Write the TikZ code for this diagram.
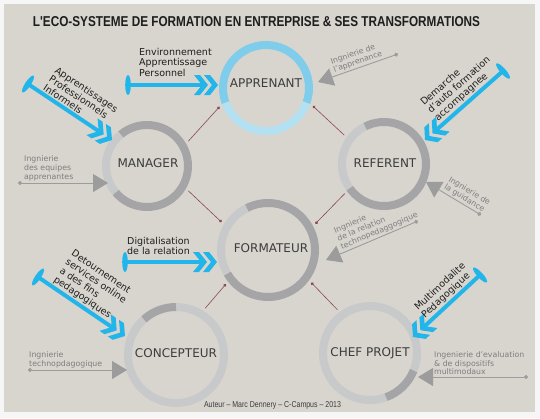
\documentclass[tikz,border=0pt]{standalone}
\usepackage{fontspec}
\setmainfont{DejaVu Sans}
\newfontfamily\titlefont{Liberation Sans}
\usetikzlibrary{arrows.meta,calc}
\definecolor{panel}{HTML}{D8D5CF}
\definecolor{frameW}{HTML}{F6F6F6}
\definecolor{ringD}{HTML}{A5A5A7}
\definecolor{ringL}{HTML}{C8C9CB}
\definecolor{blueD}{HTML}{80CCEB}
\definecolor{blueL}{HTML}{B4E1F1}
\definecolor{arrowB}{HTML}{22B5EA}
\definecolor{annotG}{HTML}{9C9C9C}
\definecolor{annotT}{HTML}{7E7E7E}
\definecolor{linkR}{HTML}{8C4656}
\definecolor{labelT}{HTML}{3C3C3C}
\definecolor{textK}{HTML}{1E1E1E}
\tikzset{
  hub/.style={circle, inner sep=0pt, minimum size=#1},
  hublabel/.style={font=\fontsize{12}{14}\selectfont, text=labelT, inner sep=0pt},
  ringseg/.style={line width=8pt, draw=#1},
  link/.style={draw=linkR, line width=0.6pt},
  bshaft/.style={draw=arrowB, line width=4pt, shorten >=12pt},
  btext/.style={font=\fontsize{9.5}{10.5}\selectfont, text=textK, align=left, inner sep=3pt},
  annot/.style={draw=annotG, line width=0.9pt, {Circle[length=4pt]}-{Triangle[length=15pt,width=18pt]}},
  atext/.style={font=\fontsize{7.8}{8.6}\selectfont, text=annotT, align=left, inner sep=1.5pt}
}
\newcommand\seg[5]{\draw[ringseg=#5] ([shift={(#3:#2)}]#1.center) arc[start angle=#3, end angle=#4, radius=#2];}
\newcommand\barrow[3]{%
  \draw[bshaft] (#1) -- (#2);
  \fill[arrowB, rotate around={#3:(#1)}] (#1) ellipse[x radius=2.8pt, y radius=10pt];
  \begin{scope}[shift={(#2)}, rotate=#3]
    \fill[arrowB] (0,0) -- (-8,10) -- (-14,10) -- (-6,0) -- (-14,-10) -- (-8,-10) -- cycle;
    \fill[arrowB] (-10,0) -- (-18,10) -- (-24,10) -- (-16,0) -- (-24,-10) -- (-18,-10) -- cycle;
  \end{scope}}
\begin{document}
\begin{tikzpicture}[x=1pt,y=-1pt]
\useasboundingbox (0,0) rectangle (540,418);
\fill[frameW] (0,0) rectangle (540,418);
\fill[panel] (4,4) rectangle (535,412);

% title
\node[inner sep=0pt, text=textK] (title) at (256.5,22) {\resizebox{447pt}{10pt}{\titlefont\bfseries L'ECO-SYSTEME DE FORMATION EN ENTREPRISE \& SES TRANSFORMATIONS}};

% hubs
\node[hub=100pt] (app) at (266,88) {};
\node[hub=96pt] (man) at (147,166) {};
\node[hub=98pt] (ref) at (384,164) {};
\node[hub=108pt] (form) at (268,250) {};
\node[hub=110pt] (conc) at (176,355) {};
\node[hub=108pt] (chef) at (370,353) {};

% rings
\seg{app}{43pt}{-20}{200}{blueD}
\seg{app}{43pt}{200}{340}{blueL}
\seg{man}{41pt}{-140}{130}{ringD}
\seg{man}{41pt}{130}{220}{ringL}
\seg{ref}{42pt}{-145}{117}{ringD}
\seg{ref}{42pt}{117}{215}{ringL}
\seg{form}{47pt}{-150}{117}{ringD}
\seg{form}{47pt}{117}{210}{ringL}
\seg{conc}{48pt}{132}{450}{ringL}
\seg{conc}{48pt}{90}{132}{ringD}
\seg{chef}{47pt}{-22}{290}{ringL}
\seg{chef}{47pt}{-70}{-22}{ringD}

% labels
\node[hublabel] (appL) at (266,83) {APPRENANT};
\node[hublabel] (manL) at (148,163) {MANAGER};
\node[hublabel] (refL) at (385,163) {REFERENT};
\node[hublabel] (formL) at (271,248) {FORMATEUR};
\node[hublabel] (concL) at (176,353) {CONCEPTEUR};
\node[hublabel] (chefL) at (370,353) {CHEF PROJET};

% links
\draw[link, {Circle[length=3pt]}-] (app.202) -- (man.31);
\draw[link, {Circle[length=3pt]}-] (app.-21) -- (ref.144);
\draw[link, -{Circle[length=3pt]}] (man.-31) -- (form.149);
\draw[link, -{Circle[length=3pt]}] (ref.217) -- (form.29);
\draw[link, {Circle[length=3pt]}-] (form.219) -- (conc.58);
\draw[link, {Circle[length=3pt]}-] (form.-37) -- (chef.127);

% blue arrows
\coordinate (t1) at (128,85);  \coordinate (h1) at (218,85);
\coordinate (t2) at (28,84);   \coordinate (h2) at (112,140);
\coordinate (t3) at (503,71);  \coordinate (h3) at (425,140);
\coordinate (t4) at (125,262); \coordinate (h4) at (217,262);
\coordinate (t5) at (38,277);  \coordinate (h5) at (125,336);
\coordinate (t6) at (480,275); \coordinate (h6) at (413,337);
\barrow{t1}{h1}{0}
\barrow{t2}{h2}{-33.7}
\barrow{t3}{h3}{-138.5}
\barrow{t4}{h4}{0}
\barrow{t5}{h5}{-34.1}
\barrow{t6}{h6}{-137.2}

\node[btext, anchor=north west, inner sep=0pt] (b1) at (139,48) {Environnement\\Apprentissage\\Personnel};
\path (t2) -- (h2) node[btext, pos=0.12, sloped, anchor=south west] (b2) {Apprentissages\\Professionnels\\Informels};
\path (t3) -- (h3) node[btext, pos=0.82, sloped, anchor=south west] (b3) {Demarche\\d'auto formation\\accompagnee};
\node[btext, anchor=north west, inner sep=0pt] (b4) at (127,237) {Digitalisation\\de la relation};
\path (t5) -- (h5) node[btext, pos=0.11, sloped, anchor=south west] (b5) {Detournement\\services online\\a des fins\\pedagogiques};
\path (t6) -- (h6) node[btext, pos=0.80, sloped, anchor=south west] (b6) {Multimodalite\\Pedagogique};

% grey annotation arrows
\coordinate (dA) at (398,54);  \coordinate (pA) at (318,82);
\coordinate (dB) at (18,183);  \coordinate (pB) at (108,183);
\coordinate (dC) at (481,215); \coordinate (pC) at (426,182);
\coordinate (dD) at (418,221); \coordinate (pD) at (326,260);
\coordinate (dE) at (28,370);  \coordinate (pE) at (127,370);
\coordinate (dF) at (528,377); \coordinate (pF) at (418,377);
\draw[annot] (dA) -- (pA) node[atext, pos=0.8, sloped, anchor=south west] (lA) {Ingnierie de\\l'apprenance};
\draw[annot] (dB) -- (pB);
\node[atext, anchor=south west, inner sep=0pt] (lB) at (24,181) {Ingnierie\\des equipes\\apprenantes};
\draw[annot] (dC) -- (pC) node[atext, pos=0.74, sloped, anchor=south west] (lC) {Ingnierie de\\la guidance};
\draw[annot] (dD) -- (pD) node[atext, pos=0.83, sloped, anchor=south west] (lD) {Ingnierie\\de la relation\\technopedaggogique};
\draw[annot] (dE) -- (pE);
\node[atext, anchor=south west, inner sep=0pt] (lE) at (29,368) {Ingnierie\\technopdagogique};
\draw[annot] (dF) -- (pF);
\node[atext, anchor=south west, inner sep=0pt] (lF) at (434,375) {Ingenierie d'evaluation\\\& de dispositifs\\multimodaux};

% footer
\node[inner sep=0pt, text=labelT] (foot) at (272.5,405) {\resizebox{137pt}{6pt}{\titlefont Auteur – Marc Dennery – C-Campus – 2013}};
\end{tikzpicture}
\end{document}
